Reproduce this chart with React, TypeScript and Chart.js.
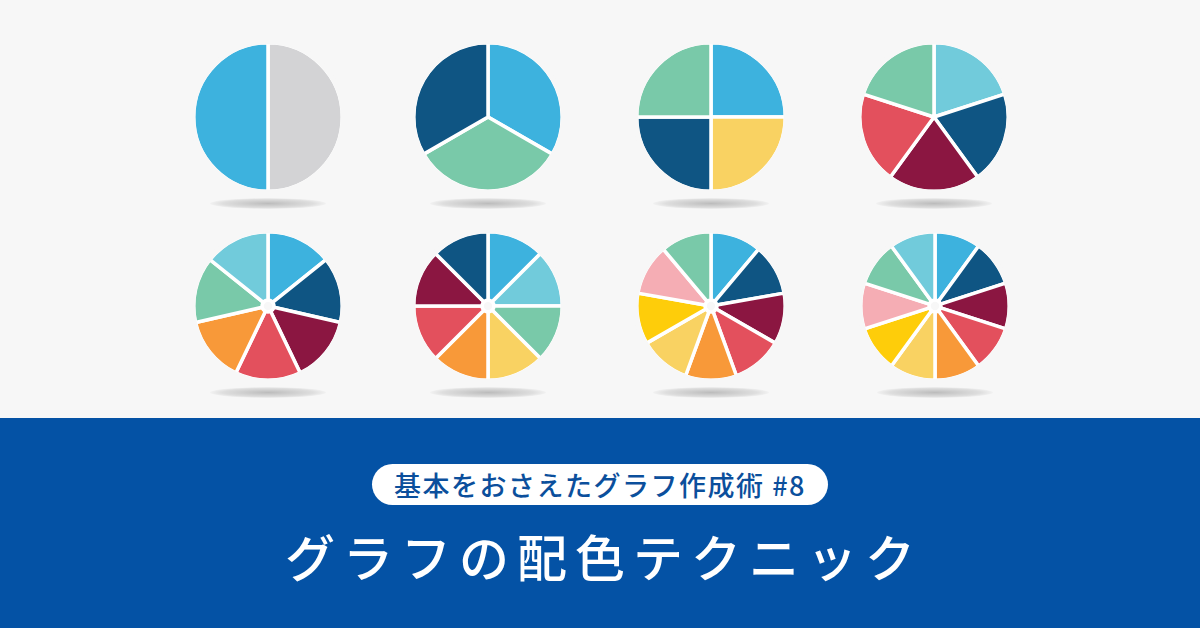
import React, { useEffect, useRef } from "react";
import Chart from "chart.js/auto";

// colours
const BLUE = "#3db2de";
const GRAY = "#d3d3d5";
const NAVY = "#0f5583";
const GREEN = "#79c9a9";
const YELLOW = "#f9d262";
const CYAN = "#71cbdb";
const MAROON = "#8b1641";
const RED = "#e3505d";
const ORANGE = "#f89939";
const GOLD = "#fecd0a";
const PINK = "#f5adb4";

// data (equal slices, clockwise from 12 o'clock)
const pie1Values = [1, 1];
const pie1Colors = [GRAY, BLUE];
const pie2Values = [1, 1, 1];
const pie2Colors = [BLUE, GREEN, NAVY];
const pie3Values = [1, 1, 1, 1];
const pie3Colors = [BLUE, YELLOW, NAVY, GREEN];
const pie4Values = [1, 1, 1, 1, 1];
const pie4Colors = [CYAN, NAVY, MAROON, RED, GREEN];
const pie5Values = [1, 1, 1, 1, 1, 1, 1];
const pie5Colors = [BLUE, NAVY, MAROON, RED, ORANGE, GREEN, CYAN];
const pie6Values = [1, 1, 1, 1, 1, 1, 1, 1];
const pie6Colors = [BLUE, CYAN, GREEN, YELLOW, ORANGE, RED, MAROON, NAVY];
const pie7Values = [1, 1, 1, 1, 1, 1, 1, 1, 1];
const pie7Colors = [BLUE, NAVY, MAROON, RED, ORANGE, YELLOW, GOLD, PINK, GREEN];
const pie8Values = [1, 1, 1, 1, 1, 1, 1, 1, 1, 1];
const pie8Colors = [BLUE, NAVY, MAROON, RED, ORANGE, YELLOW, GOLD, PINK, GREEN, CYAN];

const subtitle = "基本をおさえたグラフ作成術 #8";
const title = "グラフの配色テクニック";

const BG = "#f7f7f7";
const SIZE = 152;

// hides the white outer rim left by the slice borders
const rimPlugin = {
  id: "rim",
  afterDatasetsDraw(chart: any) {
    const meta = chart.getDatasetMeta(0);
    const arc = meta.data[0];
    if (!arc) return;
    const { x, y, outerRadius } = arc.getProps(["x", "y", "outerRadius"], true);
    const ctx = chart.ctx;
    ctx.save();
    ctx.beginPath();
    ctx.arc(x, y, outerRadius + 1, 0, Math.PI * 2);
    ctx.lineWidth = 5;
    ctx.strokeStyle = BG;
    ctx.stroke();
    ctx.restore();
  },
};

function Pie({ values, colors, cutout, cx, cy }: { values: number[]; colors: string[]; cutout: string; cx: number; cy: number }) {
  const ref = useRef<HTMLCanvasElement | null>(null);
  useEffect(() => {
    if (!ref.current) return;
    const chart = new Chart(ref.current, {
      type: "doughnut",
      data: {
        labels: values.map((_, i) => String(i + 1)),
        datasets: [
          {
            data: values,
            backgroundColor: colors,
            borderColor: "#ffffff",
            borderWidth: 3.5,
            hoverOffset: 0,
          },
        ],
      },
      options: {
        responsive: false,
        animation: false,
        cutout,
        layout: { padding: 0 },
        plugins: { legend: { display: false }, tooltip: { enabled: false } },
        events: [],
      },
      plugins: [rimPlugin],
    });
    return () => chart.destroy();
  }, []);
  return (
    <>
      <div
        style={{
          position: "absolute",
          left: cx - 58,
          top: cy + 81,
          width: 116,
          height: 11,
          borderRadius: "50%",
          background: "radial-gradient(ellipse at center, rgba(0,0,0,0.24) 0%, rgba(0,0,0,0.1) 55%, rgba(0,0,0,0) 75%)",
        }}
      />
      <canvas
        ref={ref}
        width={SIZE}
        height={SIZE}
        style={{ position: "absolute", left: cx - SIZE / 2, top: cy - SIZE / 2, width: SIZE, height: SIZE }}
      />
    </>
  );
}

export default function App() {
  return (
    <div
      style={{
        position: "fixed",
        left: 0,
        top: 0,
        width: 1200,
        height: 628,
        background: BG,
        overflow: "hidden",
        fontFamily: "'Noto Sans CJK JP', 'Noto Sans', sans-serif",
      }}
    >
      <Pie values={pie1Values} colors={pie1Colors} cutout="0%" cx={268} cy={117} />
      <Pie values={pie2Values} colors={pie2Colors} cutout="0%" cx={488} cy={117} />
      <Pie values={pie3Values} colors={pie3Colors} cutout="0%" cx={711} cy={117} />
      <Pie values={pie4Values} colors={pie4Colors} cutout="0%" cx={934} cy={117} />
      <Pie values={pie5Values} colors={pie5Colors} cutout="8%" cx={268} cy={306} />
      <Pie values={pie6Values} colors={pie6Colors} cutout="8%" cx={488} cy={306} />
      <Pie values={pie7Values} colors={pie7Colors} cutout="8%" cx={711} cy={306} />
      <Pie values={pie8Values} colors={pie8Colors} cutout="8%" cx={935} cy={306} />
      <div style={{ position: "absolute", left: 0, top: 418, width: 1200, height: 210, background: "#0452a5" }} />
      <div
        style={{
          position: "absolute",
          left: 372,
          top: 464,
          width: 456,
          height: 41,
          borderRadius: 21,
          background: "#ffffff",
          color: "#0b4f9c",
          fontSize: 27,
          fontWeight: 500,
          lineHeight: "41px",
          textAlign: "center",
          letterSpacing: 1.5,
        }}
      >
        {subtitle}
      </div>
      <div
        style={{
          position: "absolute",
          left: 0,
          top: 522,
          width: 1200,
          height: 66,
          color: "#ffffff",
          fontSize: 50,
          fontWeight: 500,
          lineHeight: "66px",
          textAlign: "center",
          letterSpacing: 8,
          paddingLeft: 8,
          boxSizing: "border-box",
        }}
      >
        {title}
      </div>
    </div>
  );
}
